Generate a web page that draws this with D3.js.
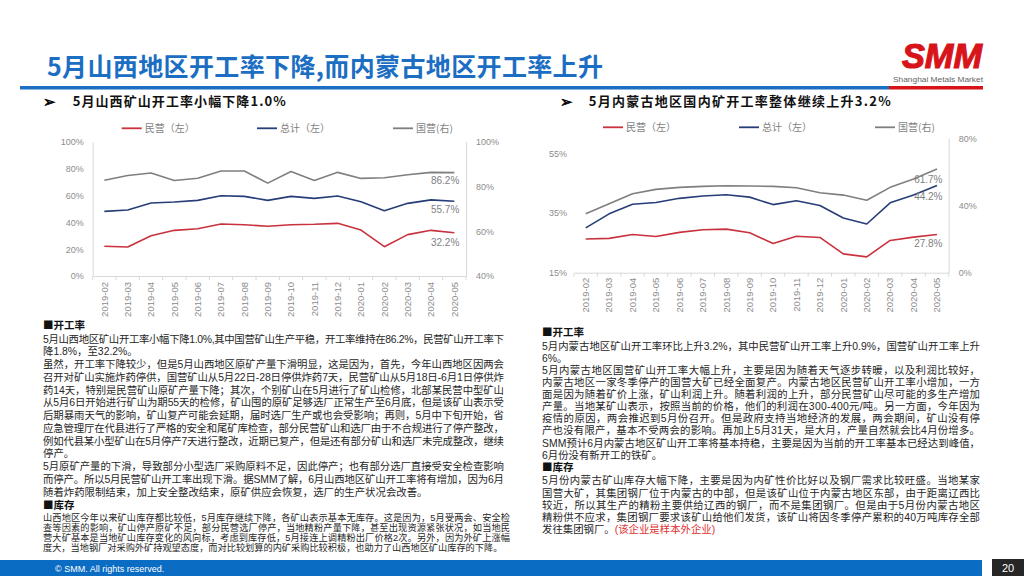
<!DOCTYPE html>
<html><head><meta charset="utf-8">
<script src="https://cdn.jsdelivr.net/npm/d3@7/dist/d3.min.js"></script>
<style>
html,body{margin:0;padding:0;background:#fff;}
svg{display:block;font-family:"Liberation Sans","Noto Sans CJK SC",sans-serif;}
</style></head>
<body>
<svg id="c" width="1024" height="576"></svg>
<script>
// ---------------- DATA ----------------
const months = ["2019-02","2019-03","2019-04","2019-05","2019-06","2019-07","2019-08","2019-09","2019-10","2019-11","2019-12","2020-01","2020-02","2020-03","2020-04","2020-05"];
// Shanxi (left chart)
const sxPrivate = [22.1,21.6,30.0,34.0,35.2,38.7,38.2,37.0,38.2,38.5,39.2,34.2,21.8,30.8,34.0,32.2];
const sxTotal   = [48.1,49.1,54.3,55.1,56.3,59.8,59.3,56.3,59.3,57.8,59.6,55.3,48.6,54.1,56.7,55.7];
const sxState   = [82.8,84.9,86.0,82.7,83.7,86.9,86.9,81.5,86.7,82.7,86.3,83.6,83.9,85.2,86.3,86.2];
// Inner Mongolia (right chart)
const nmPrivate = [26.3,26.5,27.8,27.1,28.5,29.4,29.6,28.4,24.8,27.2,26.8,21.3,20.3,25.8,26.9,27.8];
const nmTotal   = [30.0,34.7,37.9,38.5,39.9,40.7,41.1,40.3,37.8,39.1,37.5,33.3,31.3,38.4,41.0,44.2];
const nmState   = [35.1,41.1,47.0,49.6,50.8,51.4,51.8,51.6,51.4,50.6,47.6,46.2,43.1,50.8,55.8,61.7];

const sxLeftTicks = [0,20,40,60,80,100];
const sxRightTicks = [40,60,80,100];
const nmLeftTicks = [15,35,55];
const nmRightTicks = [0,40,80];

const seriesNames = ["民营（左）","总计（左）","国营(右)"];

const pageTitle = "5月山西地区开工率下降,而内蒙古地区开工率上升";
const leftHeader = "5月山西矿山开工率小幅下降1.0%";
const rightHeader = "5月内蒙古地区国内矿开工率整体继续上升3.2%";

const leftRateParas = [
 ["5月山西地区矿山开工率小幅下降1.0%,其中国营矿山生产平稳，开工率维持在86.2%，民营矿山开工率下",
  "降1.8%，至32.2%。"],
 ["虽然，开工率下降较少，但是5月山西地区原矿产量下滑明显，这是因为，首先，今年山西地区因两会",
  "召开对矿山实施炸药停供，国营矿山从5月22日-28日停供炸药7天，民营矿山从5月18日-6月1日停供炸",
  "药14天，特别是民营矿山原矿产量下降；其次，个别矿山在5月进行了矿山检修，北部某民营中型矿山",
  "从5月6日开始进行矿山为期55天的检修，矿山囤的原矿足够选厂正常生产至6月底，但是该矿山表示受",
  "后期暴雨天气的影响，矿山复产可能会延期，届时选厂生产或也会受影响；再则，5月中下旬开始，省",
  "应急管理厅在代县进行了严格的安全和尾矿库检查，部分民营矿山和选厂由于不合规进行了停产整改，",
  "例如代县某小型矿山在5月停产7天进行整改，近期已复产，但是还有部分矿山和选厂未完成整改，继续",
  "停产。"],
 ["5月原矿产量的下滑，导致部分小型选厂采购原料不足，因此停产；也有部分选厂直接受安全检查影响",
  "而停产。所以5月民营矿山开工率出现下滑。据SMM了解，6月山西地区矿山开工率将有增加，因为6月",
  "随着炸药限制结束，加上安全整改结束，原矿供应会恢复，选厂的生产状况会改善。"]
];
const leftStockParas = [
 ["山西地区今年以来矿山库存都比较低，5月库存继续下降，各矿山表示基本无库存。这是因为，5月受两会、安全检",
  "查等因素的影响，矿山停产原矿不足，部分民营选厂停产，当地精粉产量下降，甚至出现资源紧张状况，如当地民",
  "营大矿基本是当地矿山库存变化的风向标，考虑到库存低，5月接连上调精粉出厂价格2次。另外，因为外矿上涨幅",
  "度大，当地钢厂对采购外矿持观望态度，而对比较划算的内矿采购比较积极，也助力了山西地区矿山库存的下降。"]
];
const rightRateParas = [
 ["5月内蒙古地区矿山开工率环比上升3.2%，其中民营矿山开工率上升0.9%，国营矿山开工率上升",
  "6%。"],
 ["5月内蒙古地区国营矿山开工率大幅上升，主要是因为随着天气逐步转暖，以及利润比较好，",
  "内蒙古地区一家冬季停产的国营大矿已经全面复产。内蒙古地区民营矿山开工率小增加，一方",
  "面是因为随着矿价上涨，矿山利润上升。随着利润的上升，部分民营矿山尽可能的多生产增加",
  "产量。当地某矿山表示，按照当前的价格，他们的利润在300-400元/吨。另一方面，今年因为",
  "疫情的原因，两会推迟到5月份召开。但是政府支持当地经济的发展，两会期间，矿山没有停",
  "产也没有限产，基本不受两会的影响。再加上5月31天，是大月，产量自然就会比4月份增多。",
  "SMM预计6月内蒙古地区矿山开工率将基本持稳，主要是因为当前的开工率基本已经达到峰值，",
  "6月份没有新开工的铁矿。"]
];
const rightStockParas = [
 ["5月份内蒙古矿山库存大幅下降，主要是因为内矿性价比好以及钢厂需求比较旺盛。当地某家",
  "国营大矿，其集团钢厂位于内蒙古的中部，但是该矿山位于内蒙古地区东部，由于距离辽西比",
  "较近，所以其生产的精粉主要供给辽西的钢厂，而不是集团钢厂。但是由于5月份内蒙古地区",
  "精粉供不应求，集团钢厂要求该矿山给他们发货，该矿山将因冬季停产累积的40万吨库存全部",
  "发往集团钢厂。"]
];
const rightStockNote = "(该企业是样本外企业)";

// ---------------- STYLE ----------------
const RED = "#c9323d", NAVY = "#263d78", GREY = "#7f7f7f";
const BLUE = "#1b6ec2";
const svg = d3.select("#c");

// ---------------- HEADER ----------------
svg.append("text").attr("x",47).attr("y",76).attr("fill",BLUE)
  .attr("font-family","Noto Sans CJK SC").attr("font-weight","bold").attr("font-size",25)
  .attr("textLength",556).attr("lengthAdjust","spacing").text(pageTitle);
svg.append("rect").attr("x",20).attr("y",86).attr("width",869).attr("height",3.5).attr("fill",BLUE);
svg.append("rect").attr("x",889).attr("y",86).attr("width",94).attr("height",3.5).attr("fill","#d7141a");
// logo
svg.append("text").attr("x",902).attr("y",68).attr("fill","#d7141a")
  .attr("font-family","Liberation Sans").attr("font-weight","bold").attr("font-style","italic")
  .attr("font-size",35).attr("stroke","#d7141a").attr("stroke-width",1.2)
  .attr("textLength",80).attr("lengthAdjust","spacingAndGlyphs").text("SMM");
svg.append("text").attr("x",893).attr("y",81.5).attr("fill","#666")
  .attr("font-size",7.5).attr("textLength",90).attr("lengthAdjust","spacingAndGlyphs").text("Shanghai Metals Market");

// section headers
function sectionHeader(xArrow, xText, txt, w){
  svg.append("text").attr("x",xArrow).attr("y",106.5).attr("font-family","DejaVu Sans")
    .attr("font-size",15).attr("fill","#000").attr("stroke","#000").attr("stroke-width",0.6).text("➢");
  svg.append("text").attr("x",xText).attr("y",106).attr("font-family","Noto Sans CJK SC")
    .attr("font-weight","bold").attr("font-size",13).attr("fill","#111")
    .attr("textLength",w).attr("lengthAdjust","spacing").text(txt);
}
sectionHeader(43,72.7,leftHeader,213);
sectionHeader(560,588.7,rightHeader,302);

// ---------------- CHARTS ----------------
function drawChart(cfg){
  const g = svg.append("g");
  const x = d3.scaleBand().domain(months).range([cfg.x0,cfg.x1]);
  const yL = d3.scaleLinear().domain(cfg.leftDomain).range([cfg.yBot,cfg.yTop]);
  const yR = d3.scaleLinear().domain(cfg.rightDomain).range([cfg.yBot,cfg.yTop]);
  const axisCol = "#d9d9d9", labCol = "#8c8c8c";

  const ax = g.append("g").attr("transform",`translate(0,${cfg.yBot})`)
    .call(d3.axisBottom(x).tickSize(0).tickPadding(5));
  ax.select(".domain").attr("stroke",axisCol);
  ax.selectAll("text").attr("fill",labCol).attr("font-size",9.5)
    .attr("font-family","Liberation Sans")
    .attr("transform","rotate(-90)").attr("text-anchor","end")
    .attr("x",-cfg.labelGap).attr("y",0).attr("dy","0.35em");
  // category boundary ticks
  g.selectAll("line.bt").data(months.concat(["_end"])).join("line")
    .attr("x1",(d,i)=>cfg.x0+i*x.step()).attr("x2",(d,i)=>cfg.x0+i*x.step())
    .attr("y1",cfg.yBot).attr("y2",cfg.yBot+4).attr("stroke",axisCol);

  const al = g.append("g").attr("transform",`translate(${cfg.x0},0)`)
    .call(d3.axisLeft(yL).tickValues(cfg.leftTicks).tickSize(0).tickPadding(cfg.leftPad).tickFormat(d=>d+"%"));
  al.select(".domain").attr("stroke",cfg.leftLine?axisCol:"none");
  al.selectAll("text").attr("fill",labCol).attr("font-size",9).attr("font-family","Liberation Sans");

  const ar = g.append("g").attr("transform",`translate(${cfg.x1},0)`)
    .call(d3.axisRight(yR).tickValues(cfg.rightTicks).tickSize(0).tickPadding(cfg.rightPad).tickFormat(d=>d+"%"));
  ar.select(".domain").attr("stroke",axisCol);
  ar.selectAll("text").attr("fill",labCol).attr("font-size",9).attr("font-family","Liberation Sans");

  cfg.series.forEach(s=>{
    const yy = s.axis==="L"?yL:yR;
    const line = d3.line().x((d,i)=>x(months[i])+x.bandwidth()/2).y(d=>yy(d));
    g.append("path").datum(s.values).attr("d",line).attr("fill","none")
      .attr("stroke",s.color).attr("stroke-width",1.6).attr("stroke-linejoin","round");
    const last = s.values[s.values.length-1];
    g.append("text").attr("x",x(months[months.length-1])+x.bandwidth()/2+cfg.endDx)
      .attr("y",yy(last)+s.endDy).attr("dy","0.35em").attr("text-anchor","end")
      .attr("fill",GREY).attr("font-size",10).attr("font-family","Liberation Sans")
      .text(last.toFixed(1)+"%");
  });

  // legend
  cfg.series.forEach((s,i)=>{
    const lx = cfg.legendX[i];
    g.append("line").attr("x1",lx).attr("x2",lx+20).attr("y1",cfg.legendY).attr("y2",cfg.legendY)
      .attr("stroke",s.color).attr("stroke-width",1.8);
    g.append("text").attr("x",lx+23).attr("y",cfg.legendY).attr("dy","0.35em")
      .attr("fill","#7f7f7f").attr("font-size",10).attr("font-family","Noto Sans CJK SC").text(seriesNames[i]);
  });
}

drawChart({
  x0:92.7, x1:466, yTop:141.7, yBot:276, labelGap:6,
  leftDomain:[0,100], rightDomain:[40,100], leftTicks:sxLeftTicks, rightTicks:sxRightTicks,
  leftPad:9, rightPad:10, leftLine:true, endDx:5,
  legendY:128.3, legendX:[121.7,257,393],
  series:[
    {values:sxPrivate, axis:"L", color:RED, endDy:10},
    {values:sxTotal, axis:"L", color:NAVY, endDy:8},
    {values:sxState, axis:"R", color:GREY, endDy:7.5}
  ]
});
drawChart({
  x0:574, x1:948.7, yTop:138.3, yBot:272.7, labelGap:5,
  leftDomain:[15,60], rightDomain:[0,80], leftTicks:nmLeftTicks, rightTicks:nmRightTicks,
  leftPad:7, rightPad:10, leftLine:false, endDx:5.5,
  legendY:127.3, legendX:[603,739,875],
  series:[
    {values:nmPrivate, axis:"L", color:RED, endDy:9.5},
    {values:nmTotal, axis:"L", color:NAVY, endDy:11},
    {values:nmState, axis:"R", color:GREY, endDy:10.5}
  ]
});

// ---------------- BODY TEXT ----------------
const TXT = "#262626";
function heading(x,yc,txt){
  svg.append("text").attr("x",x).attr("y",yc).attr("dy","0.36em").attr("fill","#111")
    .attr("font-family","Noto Sans CJK SC").attr("font-weight","bold").attr("font-size",10.5).text("■"+txt);
}
function block(paras,x,y0,dy,size,width){
  let y = y0; let lastNode=null;
  paras.forEach(p=>{
    p.forEach((ln,i)=>{
      const t = svg.append("text").attr("x",x).attr("y",y).attr("dy","0.36em")
        .attr("fill",TXT).attr("font-size",size).text(ln);
      if(i<p.length-1) t.attr("textLength",width).attr("lengthAdjust","spacing");
      lastNode=t; y+=dy;
    });
  });
  return lastNode;
}
heading(43,325,"开工率");
block(leftRateParas,43,339,12.75,10.4,461);
heading(43,505,"库存");
block(leftStockParas,43,517.8,9.8,9.2,467);

heading(542,332,"开工率");
block(rightRateParas,542,346,12.1,10.4,438);
heading(542,467.5,"库存");
const lastR = block(rightStockParas,542,480.7,12.25,10.4,438);
lastR.append("tspan").attr("fill","#e03030").text(rightStockNote);

// ---------------- FOOTER ----------------
svg.append("rect").attr("x",0).attr("y",560).attr("width",982).attr("height",16).attr("fill","#0b6cc4");
svg.append("text").attr("x",55).attr("y",568.5).attr("dy","0.35em").attr("fill","#fff")
  .attr("font-size",9).text("© SMM. All rights reserved.");
svg.append("rect").attr("x",992).attr("y",559).attr("width",32).attr("height",17).attr("fill","#262626");
svg.append("text").attr("x",1008).attr("y",568).attr("dy","0.36em").attr("text-anchor","middle")
  .attr("fill","#fff").attr("font-size",11).text("20");
</script>
</body></html>
